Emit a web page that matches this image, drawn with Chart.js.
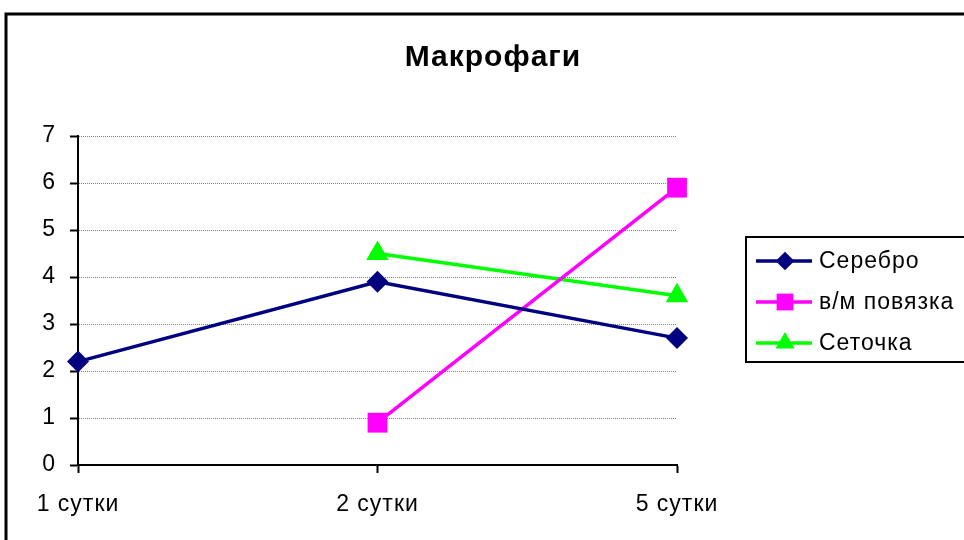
<!DOCTYPE html>
<html lang="ru">
<head>
<meta charset="utf-8">
<title>Макрофаги</title>
<script src="https://cdn.jsdelivr.net/npm/chart.js@4/dist/chart.umd.min.js"></script>
<style>
  html, body { margin: 0; padding: 0; background: #fff; }
  #wrap { width: 964px; height: 540px; position: relative; }
</style>
</head>
<body>
<div id="wrap"><canvas id="chart" width="964" height="540"></canvas></div>
<script>
// Observation days
const days = ['1 сутки', '2 сутки', '5 сутки'];

// Macrophage counts per dressing type (null = not measured)
const serebro = [2.2, 3.9, 2.7];
const povyazka = [null, 0.9, 5.9];
const setochka = [null, 4.5, 3.6];

const seriesNames = ['Серебро', 'в/м повязка', 'Сеточка'];
const yTicks = [0, 1, 2, 3, 4, 5, 6, 7];

const FONT = "'Liberation Sans', Arial, sans-serif";

// Outer frame of the chart sheet; also sets a slightly open letter spacing for all text
const framePlugin = {
  id: 'frame',
  beforeDraw(chart) {
    const ctx = chart.ctx;
    ctx.save();
    ctx.fillStyle = '#fff';
    ctx.fillRect(0, 0, chart.width, chart.height);
    ctx.strokeStyle = '#000';
    ctx.lineWidth = 3;
    ctx.beginPath();
    ctx.moveTo(6, chart.height + 2);
    ctx.lineTo(6, 14);
    ctx.lineTo(chart.width + 2, 14);
    ctx.stroke();
    ctx.restore();
    if ('letterSpacing' in ctx) ctx.letterSpacing = '1px';
  }
};

function drawMarker(ctx, style, x, y, r, color) {
  ctx.save();
  ctx.fillStyle = color;
  ctx.beginPath();
  if (style === 'rectRot') {
    ctx.moveTo(x, y - r);
    ctx.lineTo(x + r, y);
    ctx.lineTo(x, y + r);
    ctx.lineTo(x - r, y);
  } else if (style === 'rect') {
    const h = r * Math.SQRT1_2;
    ctx.rect(x - h, y - h, 2 * h, 2 * h);
  } else if (style === 'triangle') {
    ctx.moveTo(x, y - r);
    ctx.lineTo(x + r * Math.sin(2 * Math.PI / 3), y - r * Math.cos(2 * Math.PI / 3));
    ctx.lineTo(x - r * Math.sin(2 * Math.PI / 3), y - r * Math.cos(2 * Math.PI / 3));
  }
  ctx.closePath();
  ctx.fill();
  ctx.restore();
}

// Boxed legend on the right
const boxLegendPlugin = {
  id: 'boxLegend',
  afterDraw(chart) {
    const ctx = chart.ctx;
    const left = 746, top = 237, bottom = 362;
    ctx.save();
    ctx.strokeStyle = '#000';
    ctx.lineWidth = 2;
    ctx.strokeRect(left, top, chart.width + 10 - left, bottom - top);
    const rows = [261, 302, 343];
    chart.data.datasets.forEach((ds, i) => {
      const y = rows[i];
      ctx.strokeStyle = ds.borderColor;
      ctx.lineWidth = ds.borderWidth;
      ctx.beginPath();
      ctx.moveTo(756, y);
      ctx.lineTo(812, y);
      ctx.stroke();
      drawMarker(ctx, ds.pointStyle, 785, y, ds.pointRadius * 0.85, ds.pointBackgroundColor);
      ctx.fillStyle = '#000';
      ctx.font = '23px ' + FONT;
      ctx.textAlign = 'left';
      ctx.textBaseline = 'middle';
      ctx.fillText(ds.label, 819, y + 1);
    });
    ctx.restore();
  }
};

function series(label, data, color, style, radius) {
  return {
    label: label,
    data: data,
    yAxisID: 'y',
    borderColor: color,
    backgroundColor: color,
    pointBackgroundColor: color,
    pointBorderColor: color,
    pointBorderWidth: 0,
    pointStyle: style,
    pointRadius: radius,
    pointHoverRadius: radius,
    borderWidth: 3.5,
    tension: 0,
    spanGaps: false
  };
}

new Chart(document.getElementById('chart'), {
  type: 'line',
  data: {
    labels: days,
    datasets: [
      series(seriesNames[0], serebro, '#000080', 'rectRot', 11),
      series(seriesNames[1], povyazka, '#FF00FF', 'rect', 14),
      series(seriesNames[2], setochka, '#00FF00', 'triangle', 13)
    ]
  },
  options: {
    responsive: false,
    animation: false,
    events: [],
    layout: { padding: { left: 22, top: 0, right: 0, bottom: 0 } },
    plugins: {
      legend: { display: false },
      tooltip: { enabled: false },
      title: {
        display: true,
        text: 'Макрофаги',
        color: '#000',
        font: { family: FONT, size: 30, weight: 'bold', lineHeight: 1.2 },
        padding: { top: 40, bottom: 60 }
      }
    },
    scales: {
      x: {
        offset: false,
        grid: {
          drawOnChartArea: false,
          drawTicks: true,
          tickLength: 8,
          tickColor: '#000',
          tickWidth: 2
        },
        border: { display: true, color: '#000', width: 2 },
        ticks: {
          color: '#000',
          padding: 18,
          maxRotation: 0,
          font: { family: FONT, size: 23 }
        },
        afterFit(scale) { scale.height = 75; }
      },
      y: {
        position: 'left',
        min: 0,
        max: 7,
        afterBuildTicks(scale) { scale.ticks = yTicks.map(v => ({ value: v })); },
        grid: {
          color: '#808080',
          lineWidth: 1,
          tickLength: 8,
          tickColor: '#000',
          tickWidth: 2,
          tickBorderDash: []
        },
        border: { display: true, color: '#000', width: 2, dash: [1, 1] },
        ticks: {
          color: '#000',
          padding: 14,
          font: { family: FONT, size: 23 }
        },
        afterFit(scale) { scale.width = 56; }
      },
      // empty right-hand strip that holds the legend area
      side: {
        type: 'linear',
        position: 'right',
        min: 0,
        max: 7,
        grid: { display: false, drawTicks: false },
        border: { display: false },
        ticks: { display: false },
        afterFit(scale) { scale.width = 287; }
      }
    }
  },
  plugins: [framePlugin, boxLegendPlugin]
});
</script>
</body>
</html>
